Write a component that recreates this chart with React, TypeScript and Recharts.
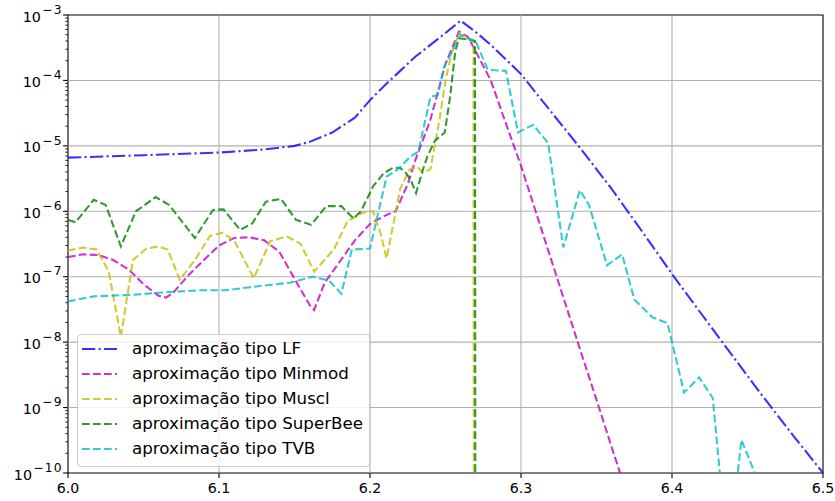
import { LineChart, Line, XAxis, YAxis, ReferenceLine, ReferenceArea } from "recharts";

// x positions and values of each series
const lfX = [6.0, 6.05, 6.1, 6.13, 6.15, 6.16, 6.175, 6.19, 6.2, 6.21, 6.22, 6.23, 6.24, 6.25, 6.26, 6.27, 6.28, 6.29, 6.3, 6.32, 6.34, 6.36, 6.38, 6.4, 6.42, 6.44, 6.46, 6.48, 6.5];
const lfY = [6.6e-6, 7.2e-6, 7.9e-6, 8.8e-6, 1.0e-5, 1.15e-5, 1.6e-5, 2.7e-5, 5.0e-5, 8.5e-5, 1.4e-4, 2.3e-4, 3.5e-4, 5.3e-4, 8.2e-4, 5.5e-4, 3.5e-4, 2.1e-4, 1.25e-4, 3.3e-5, 8.8e-6, 2.2e-6, 5.0e-7, 1.1e-7, 2.6e-8, 6.2e-9, 1.5e-9, 3.8e-10, 1.0e-10];

const minmodX = [6.0, 6.01, 6.02, 6.03, 6.04, 6.05, 6.06, 6.065, 6.07, 6.08, 6.09, 6.1, 6.11, 6.12, 6.13, 6.14, 6.15, 6.16, 6.163, 6.17, 6.18, 6.19, 6.2, 6.21, 6.217, 6.225, 6.23, 6.24, 6.25, 6.259, 6.265, 6.28, 6.29, 6.3, 6.31, 6.32, 6.33, 6.34, 6.35, 6.36, 6.37];
const minmodY = [2.0e-7, 2.2e-7, 2.15e-7, 1.8e-7, 1.3e-7, 7.7e-8, 5.1e-8, 4.8e-8, 5.8e-8, 1.07e-7, 1.8e-7, 3.0e-7, 3.9e-7, 4.0e-7, 3.6e-7, 2.4e-7, 9.3e-8, 3.7e-8, 3.1e-8, 8.1e-8, 1.7e-7, 3.6e-7, 6.4e-7, 8.6e-7, 1.0e-6, 2.6e-6, 6.0e-6, 2.5e-5, 1.8e-4, 5.6e-4, 4.6e-4, 1.0e-4, 2.2e-5, 4.95e-6, 9.5e-7, 1.82e-7, 3.5e-8, 6.7e-9, 1.32e-9, 2.5e-10, 4.9e-11];

const musclX = [6.0, 6.01, 6.019, 6.027, 6.035, 6.043, 6.052, 6.06, 6.066, 6.074, 6.084, 6.094, 6.102, 6.11, 6.123, 6.134, 6.145, 6.154, 6.163, 6.176, 6.185, 6.195, 6.202, 6.207, 6.211, 6.216, 6.22, 6.226, 6.231, 6.235, 6.24, 6.246, 6.25, 6.254, 6.259, 6.2685, 6.28];
const musclY = [2.5e-7, 2.8e-7, 2.6e-7, 1.2e-7, 1.2e-8, 1.8e-7, 2.7e-7, 2.9e-7, 2.6e-7, 9.0e-8, 1.8e-7, 4.2e-7, 4.7e-7, 3.6e-7, 9.5e-8, 3.5e-7, 4.1e-7, 3.2e-7, 1.2e-7, 2.6e-7, 7.0e-7, 9.5e-7, 1.0e-6, 4.6e-7, 1.9e-7, 7.4e-7, 2.2e-6, 4.3e-6, 4.8e-6, 3.9e-6, 4.4e-6, 2.5e-5, 1.0e-4, 2.6e-4, 5.2e-4, 4.1e-4, 0];

const superbeeX = [6.0, 6.005, 6.017, 6.025, 6.035, 6.045, 6.058, 6.067, 6.084, 6.096, 6.103, 6.114, 6.122, 6.131, 6.141, 6.151, 6.161, 6.171, 6.181, 6.189, 6.194, 6.202, 6.209, 6.215, 6.22, 6.224, 6.227, 6.2305, 6.235, 6.238, 6.243, 6.2495, 6.253, 6.2565, 6.259, 6.265, 6.2695, 6.28];
const superbeeY = [7.4e-7, 6.8e-7, 1.5e-6, 1.25e-6, 2.9e-7, 1.0e-6, 1.65e-6, 1.25e-6, 3.9e-7, 1.05e-6, 1.07e-6, 5.2e-7, 6.5e-7, 1.4e-6, 1.55e-6, 7.4e-7, 6.2e-7, 1.2e-6, 1.2e-6, 7.8e-7, 1.0e-6, 2.4e-6, 3.8e-6, 4.6e-6, 4.6e-6, 3.8e-6, 3.0e-6, 1.9e-6, 4.3e-6, 6.9e-6, 1.2e-5, 1.6e-5, 5.5e-5, 2.8e-4, 4.4e-4, 4.2e-4, 4.0e-4, 0];

const tvbX = [6.0, 6.017, 6.043, 6.065, 6.087, 6.104, 6.127, 6.147, 6.162, 6.173, 6.181, 6.188, 6.2, 6.211, 6.218, 6.227, 6.232, 6.24, 6.245, 6.249, 6.257, 6.26, 6.264, 6.27, 6.278, 6.29, 6.298, 6.308, 6.318, 6.328, 6.339, 6.345, 6.357, 6.367, 6.375, 6.387, 6.397, 6.408, 6.418, 6.427, 6.437, 6.446, 6.456, 6.466];
const tvbY = [4.2e-8, 5.0e-8, 5.3e-8, 5.8e-8, 6.2e-8, 6.2e-8, 7.2e-8, 8.1e-8, 1.0e-7, 8.7e-8, 5.5e-8, 2.6e-7, 2.7e-7, 3.4e-6, 4.3e-6, 6.9e-6, 8.2e-6, 5.6e-5, 6.0e-5, 1.6e-4, 3.7e-4, 4.9e-4, 4.4e-4, 4.0e-4, 1.45e-4, 1.4e-4, 1.6e-5, 2.1e-5, 1.1e-5, 2.8e-7, 2.1e-6, 1.25e-6, 1.5e-7, 2.2e-7, 4.5e-8, 2.4e-8, 1.95e-8, 1.7e-9, 2.9e-9, 1.4e-9, 5e-12, 3.2e-10, 8.5e-11, 1e-12];

const xTicks = [6.0, 6.1, 6.2, 6.3, 6.4, 6.5];
const decades = [-10, -9, -8, -7, -6, -5, -4, -3];

const DASHED = "7.7 3.3";
const DASHDOT = "13.3 3.3 2.1 3.3";

// zero values go far below the axis, like matplotlib clipping on a log axis
const toPoints = (xs: number[], ys: number[]) =>
  xs.map((x, i) => ({ x, y: ys[i] > 0 ? ys[i] : 1e-300 }));

const series = [
  { name: "aproximação tipo LF", color: "#0000ff", dash: DASHDOT, data: toPoints(lfX, lfY) },
  { name: "aproximação tipo Minmod", color: "#bf00bf", dash: DASHED, data: toPoints(minmodX, minmodY) },
  { name: "aproximação tipo Muscl", color: "#bfbf00", dash: DASHED, data: toPoints(musclX, musclY) },
  { name: "aproximação tipo SuperBee", color: "#008000", dash: DASHED, data: toPoints(superbeeX, superbeeY) },
  { name: "aproximação tipo TVB", color: "#00bfbf", dash: DASHED, data: toPoints(tvbX, tvbY) },
];

const yTicks: number[] = [];
decades.forEach((e) => {
  yTicks.push(Number(`1e${e}`));
  if (e < -3) for (let m = 2; m <= 9; m++) yTicks.push(Number(`${m}e${e}`));
});

const FONT = "DejaVu Sans";

function YTick(props: any) {
  const { x, y, payload } = props;
  const e = Math.log10(payload.value);
  const major = Math.abs(e - Math.round(e)) < 1e-6;
  if (!major) {
    return <line x1={x - 2.8} x2={x} y1={y} y2={y} stroke="#000" strokeWidth={0.8} />;
  }
  return (
    <g>
      <line x1={x - 4.9} x2={x} y1={y} y2={y} stroke="#000" strokeWidth={1.1} />
      <text x={x - 5.5} y={y + 6.5} textAnchor="end" fontSize={14.3} fill="#000" fontFamily={FONT}>
        10
        <tspan dx={1.5} dy={-7.8} fontSize={12.3} letterSpacing={1}>
          {"\u2212" + Math.abs(Math.round(e))}
        </tspan>
      </text>
    </g>
  );
}

function XTick(props: any) {
  const { x, y, payload } = props;
  return (
    <g>
      <line x1={x} x2={x} y1={y} y2={y + 4.9} stroke="#000" strokeWidth={1.1} />
      <text x={x} y={y + 20} textAnchor="middle" fontSize={14.2} fill="#000" fontFamily={FONT}>
        {payload.value.toFixed(1)}
      </text>
    </g>
  );
}

export default function App() {
  return (
    <div style={{ position: "absolute", left: 0, top: 0, width: 835, height: 501, background: "#fff", fontFamily: FONT }}>
      <LineChart width={835} height={501} margin={{ top: 15, right: 12, bottom: 0, left: 0 }}>
        <XAxis
          dataKey="x"
          type="number"
          domain={[6, 6.5]}
          ticks={xTicks}
          interval={0}
          allowDataOverflow
          axisLine={false}
          tickLine={false}
          tickSize={0}
          tickMargin={0}
          height={28}
          tick={XTick}
        />
        <YAxis
          type="number"
          scale="log"
          domain={[1e-10, 1e-3]}
          ticks={yTicks}
          interval={0}
          allowDataOverflow
          axisLine={false}
          tickLine={false}
          tickSize={0}
          tickMargin={0}
          width={68}
          tick={YTick}
        />
        {xTicks.slice(1, -1).map((t) => (
          <ReferenceLine key={"vx" + t} x={t} stroke="#b0b0b0" strokeWidth={1.1} />
        ))}
        {decades.slice(1, -1).map((e) => (
          <ReferenceLine key={"hy" + e} y={Number(`1e${e}`)} stroke="#b0b0b0" strokeWidth={1.1} />
        ))}
        {series.map((s) => (
          <Line
            key={s.name}
            data={s.data}
            dataKey="y"
            name={s.name}
            type="linear"
            stroke={s.color}
            strokeOpacity={0.8}
            strokeWidth={2.08}
            strokeDasharray={s.dash}
            dot={false}
            activeDot={false}
            isAnimationActive={false}
          />
        ))}
        <ReferenceArea x1={6} x2={6.5} y1={1e-10} y2={1e-3} fill="none" stroke="#000" strokeWidth={1.1} />
      </LineChart>

      {/* legend, lower left */}
      <div
        style={{
          position: "absolute",
          left: 77,
          top: 334,
          width: 293,
          height: 133,
          boxSizing: "border-box",
          border: "1px solid #cccccc",
          borderRadius: 4,
          background: "rgba(255,255,255,0.8)",
        }}
      >
        {series.map((s, i) => (
          <div
            key={s.name}
            style={{ position: "absolute", left: 0, top: 1 + i * 25, height: 25, display: "flex", alignItems: "center" }}
          >
            <svg width={50} height={10} style={{ marginLeft: 4 }}>
              <line x1={0} x2={35} y1={5} y2={5} stroke={s.color} strokeOpacity={0.8} strokeWidth={2.08} strokeDasharray={s.dash} />
            </svg>
            <span style={{ fontSize: 16.7, color: "#000", whiteSpace: "nowrap", lineHeight: "25px" }}>{s.name}</span>
          </div>
        ))}
      </div>
    </div>
  );
}
